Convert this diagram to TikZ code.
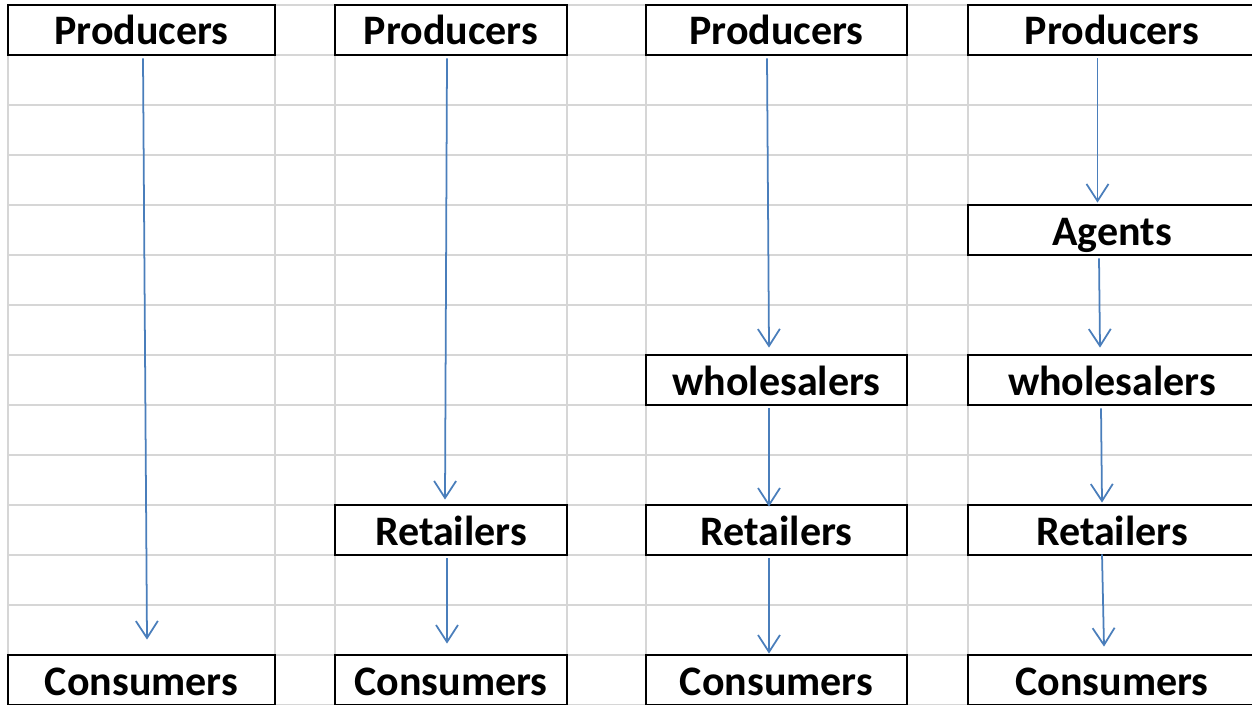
\documentclass[tikz,border=0pt]{standalone}
\usepackage{fontspec}
\setmainfont{Carlito}
\usetikzlibrary{arrows.meta,calc}
\definecolor{gridgray}{HTML}{D6D6D6}
\definecolor{flowblue}{HTML}{4A7EBB}

\begin{document}
\begin{tikzpicture}[x=0.2mm,y=-0.2mm,
  cell/.style={draw=black,line width=1.6pt,fill=white,inner sep=0pt,minimum height=10mm,
    text height=6mm,text depth=0mm,font=\fontsize{23.9}{28}\selectfont\bfseries},
  flow/.style={draw=flowblue,line width=1pt,-{Straight Barb[length=3.4mm,width=4.4mm]}}]
\useasboundingbox (0,0) rectangle (1252,704);
\clip (0,0) rectangle (1252,704);
\foreach \y in {5,55,...,705} \draw[gridgray,line width=1.2pt] (8,\y) -- (1260,\y);
\foreach \x in {8,275,335,567,646,907,968} \draw[gridgray,line width=1.2pt] (\x,5) -- (\x,710);
\node[cell,minimum width=53.4mm] (prodA) at (141.5,30) {Producers};
\node[cell,minimum width=53.4mm] (consA) at (141.5,680) {Consumers};
\node[cell,minimum width=46.4mm] (prodB) at (451,30) {Producers};
\node[cell,minimum width=46.4mm] (retB) at (451,530) {Retailers};
\node[cell,minimum width=46.4mm] (consB) at (451,680) {Consumers};
\node[cell,minimum width=52.2mm] (prodC) at (776.5,30) {Producers};
\node[cell,minimum width=52.2mm] (wholeC) at (776.5,380) {wholesalers};
\node[cell,minimum width=52.2mm] (retC) at (776.5,530) {Retailers};
\node[cell,minimum width=52.2mm] (consC) at (776.5,680) {Consumers};
\node[cell,minimum width=57.6mm] (prodD) at (1112,30) {Producers};
\node[cell,minimum width=57.6mm] (agentD) at (1112,230) {Agents};
\node[cell,minimum width=57.6mm] (wholeD) at (1112,380) {wholesalers};
\node[cell,minimum width=57.6mm] (retD) at (1112,530) {Retailers};
\node[cell,minimum width=57.6mm] (consD) at (1112,680) {Consumers};
\draw[flow] ($(prodA.south)+(1.5,2)$) -- ($(consA.north)+(5.5,-14)$);
\draw[flow] ($(prodB.south)+(-4,2)$) -- ($(retB.north)+(-6,-4)$);
\draw[flow] ($(retB.south)+(-4,2)$) -- ($(consB.north)+(-4,-10)$);
\draw[flow] ($(prodC.south)+(-9.5,2)$) -- ($(wholeC.north)+(-7.5,-6)$);
\draw[flow] ($(wholeC.south)+(-7.5,2)$) -- ($(retC.north)+(-7.5,3)$);
\draw[flow] ($(retC.south)+(-7.5,2)$) -- ($(consC.north)+(-7.5,0)$);
\draw[flow] ($(prodD.south)+(-14.5,2)$) -- ($(agentD.north)+(-14.5,-1)$);
\draw[flow] ($(agentD.south)+(-13,2)$) -- ($(wholeD.north)+(-12,-6)$);
\draw[flow] ($(wholeD.south)+(-11,2)$) -- ($(retD.north)+(-10,-1)$);
\draw[flow] ($(retD.south)+(-10,-2)$) -- ($(consD.north)+(-8,-7)$);
\end{tikzpicture}
\end{document}
